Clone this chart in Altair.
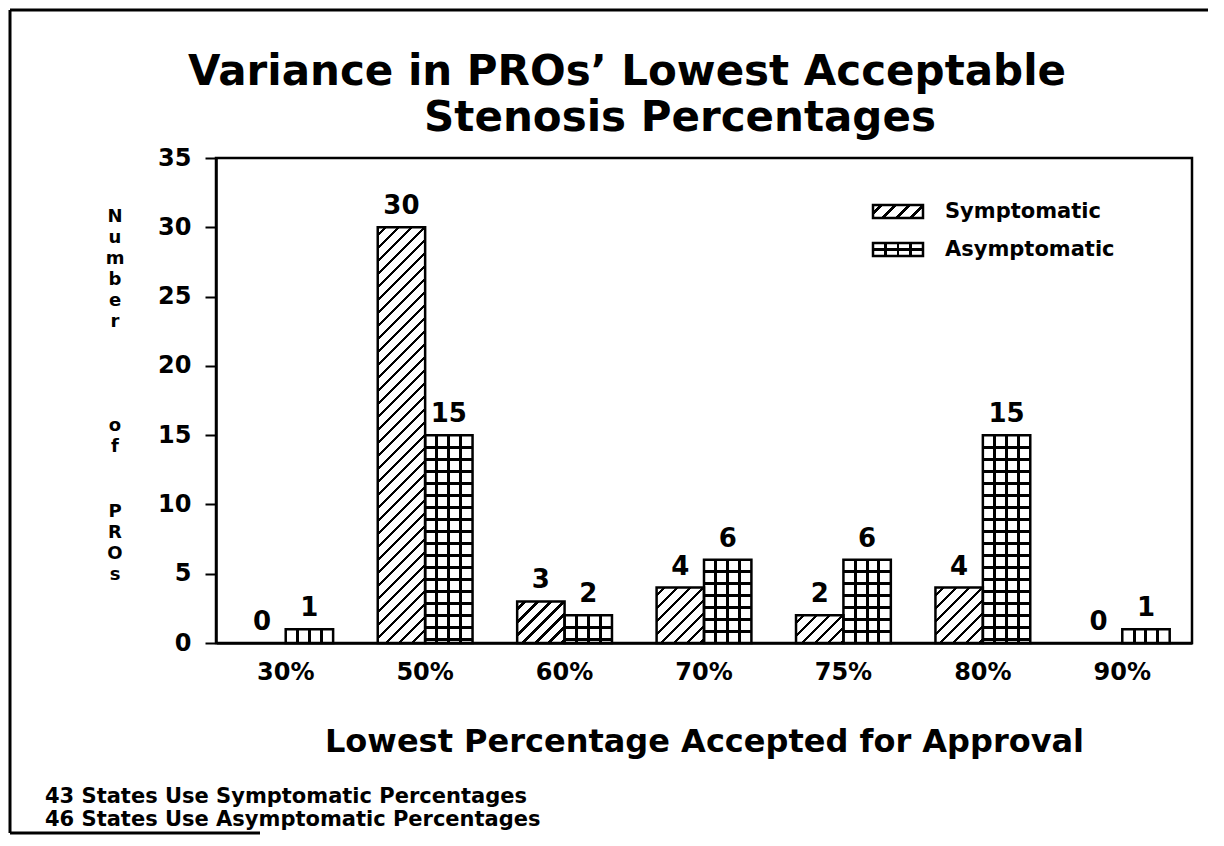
import altair as alt
import pandas as pd

# ---------------- data ----------------
categories = ["30%", "50%", "60%", "70%", "75%", "80%", "90%"]
symptomatic = [0, 30, 3, 4, 2, 4, 0]
asymptomatic = [1, 15, 2, 6, 6, 15, 1]
series_names = ["Symptomatic", "Asymptomatic"]
y_ticks = [0, 5, 10, 15, 20, 25, 30, 35]
title_lines = ["Variance in PROs\u2019 Lowest Acceptable", "Stenosis Percentages"]
x_title = "Lowest Percentage Accepted for Approval"
y_title_words = [["N", "u", "m", "b", "e", "r"], ["o", "f"], ["P", "R", "O", "s"]]
footnotes = ["43 States Use Symptomatic Percentages",
             "46 States Use Asymptomatic Percentages"]

# ---------------- layout constants ----------------
W, H = 976, 485
YMAX = 35
PAD_IN = 0.32
STEP = W / len(categories)
BAR_W = STEP * (1 - PAD_IN) / 2
FONT = "DejaVu Sans"
BLACK = "#000000"
WHITE = "#ffffff"
CLEAR = "rgba(255,255,255,0)"

rows = []
for c, s, a in zip(categories, symptomatic, asymptomatic):
    rows.append({"category": c, "series": series_names[0], "value": s})
    rows.append({"category": c, "series": series_names[1], "value": a})
df = pd.DataFrame(rows)


# ---------------- hatch helpers (SVG linear gradients) ----------------
def band_stops(bands, on, off):
    stops = [{"offset": 0, "color": off}]
    for t0, t1 in bands:
        t0 = max(0.0, min(1.0, t0))
        t1 = max(0.0, min(1.0, t1))
        stops += [{"offset": t0, "color": off}, {"offset": t0, "color": on},
                  {"offset": t1, "color": on}, {"offset": t1, "color": off}]
    stops.append({"offset": 1, "color": off})
    return stops


def diag_fill(w, h, period=13.0, thick=3.6):
    L = w + h
    bands = []
    c = period * 0.6
    while c < L:
        bands.append(((c - thick / 2) / L, (c + thick / 2) / L))
        c += period
    d = w * w + h * h
    return {"gradient": "linear", "x1": 0, "y1": 0,
            "x2": w * L / d, "y2": h * L / d,
            "stops": band_stops(bands, BLACK, WHITE)}


def hline_fill(h, period=12.0, thick=3.0):
    bands = []
    y = period
    while y < h - 2:
        bands.append(((y - thick / 2) / h, (y + thick / 2) / h))
        y += period
    return {"gradient": "linear", "x1": 0, "y1": 0, "x2": 0, "y2": 1,
            "stops": band_stops(bands, BLACK, WHITE)}


def vline_fill(w, n=4, thick=3.0):
    bands = []
    for k in range(1, n):
        x = k * w / n
        bands.append(((x - thick / 2) / w, (x + thick / 2) / w))
    return {"gradient": "linear", "x1": 0, "y1": 0, "x2": 1, "y2": 0,
            "stops": band_stops(bands, BLACK, CLEAR)}


# ---------------- encodings ----------------
x_enc = alt.X(
    "category:N",
    scale=alt.Scale(domain=categories, paddingInner=PAD_IN, paddingOuter=PAD_IN / 2),
    axis=alt.Axis(
        title=x_title, labelAngle=0, ticks=False, tickSize=0,
        labelFont=FONT, labelFontWeight="bold", labelFontSize=24,
        labelColor=BLACK, labelPadding=17,
        domainColor=BLACK, domainWidth=2.5,
        titleFont=FONT, titleFontWeight="bold", titleFontSize=32,
        titleColor=BLACK, titleBaseline="alphabetic", titleY=108,
    ),
)
xo_enc = alt.XOffset("series:N", scale=alt.Scale(domain=series_names))
y_enc = alt.Y(
    "value:Q",
    scale=alt.Scale(domain=[0, YMAX], nice=False),
    axis=alt.Axis(
        values=y_ticks, grid=False, title=None,
        labelFont=FONT, labelFontWeight="bold", labelFontSize=24,
        labelColor=BLACK, labelPadding=14,
        tickColor=BLACK, tickWidth=2, tickSize=11,
        domainColor=BLACK, domainWidth=2.5,
    ),
)

base = alt.Chart(df).encode(x=x_enc, xOffset=xo_enc, y=y_enc)

layers = []
px_per_unit = H / YMAX
for c, s, a in zip(categories, symptomatic, asymptomatic):
    if s > 0:
        layers.append(
            base.transform_filter((alt.datum.category == c) & (alt.datum.series == series_names[0]))
            .mark_bar(fill=diag_fill(BAR_W, s * px_per_unit), strokeWidth=0)
        )
    if a > 0:
        layers.append(
            base.transform_filter((alt.datum.category == c) & (alt.datum.series == series_names[1]))
            .mark_bar(fill=hline_fill(a * px_per_unit), strokeWidth=0)
        )

# vertical grid lines for all asymptomatic bars (same width -> one gradient)
layers.append(
    base.transform_filter((alt.datum.series == series_names[1]) & (alt.datum.value > 0))
    .mark_bar(fill=vline_fill(BAR_W), strokeWidth=0)
)
# outlines
layers.append(
    base.transform_filter(alt.datum.value > 0)
    .mark_bar(filled=False, stroke=BLACK, strokeWidth=2.5)
)
# value labels
layers.append(
    base.mark_text(baseline="bottom", dy=-8, font=FONT, fontWeight="bold",
                   fontSize=26, color=BLACK).encode(text="value:Q")
)

one = pd.DataFrame({"k": [0]})

# ---------------- title (two centred lines) ----------------
title_marks = []
for txt, (cx, by) in zip(title_lines, [(411, -73), (464, -27)]):
    title_marks.append(
        alt.Chart(one).mark_text(align="center", baseline="alphabetic", font=FONT,
                                 fontWeight="bold", fontSize=42, color=BLACK)
        .encode(x=alt.value(cx), y=alt.value(by), text=alt.value(txt))
    )

# ---------------- stacked y-axis title ----------------
ytitle = []
for letters, by in zip(y_title_words, [64, 273, 359]):
    ytitle.append(
        alt.Chart(one).mark_text(align="center", baseline="alphabetic", font=FONT,
                                 fontWeight="bold", fontSize=18, lineHeight=21, color=BLACK)
        .encode(x=alt.value(-101), y=alt.value(by), text=alt.value(letters))
    )

# ---------------- legend (manual, pattern swatches) ----------------
LX0, LX1 = 657, 707
rows_y = [(47, 60), (85, 98)]
SW_W, SW_H = LX1 - LX0, 13
leg = []
leg.append(alt.Chart(one).mark_rect(fill=diag_fill(SW_W, SW_H, period=14, thick=3.2), strokeWidth=0)
           .encode(x=alt.value(LX0), x2=alt.value(LX1), y=alt.value(rows_y[0][0]), y2=alt.value(rows_y[0][1])))
leg.append(alt.Chart(one).mark_rect(fill=hline_fill(SW_H, period=6.5, thick=2.5), strokeWidth=0)
           .encode(x=alt.value(LX0), x2=alt.value(LX1), y=alt.value(rows_y[1][0]), y2=alt.value(rows_y[1][1])))
leg.append(alt.Chart(one).mark_rect(fill=vline_fill(SW_W, thick=2.5), strokeWidth=0)
           .encode(x=alt.value(LX0), x2=alt.value(LX1), y=alt.value(rows_y[1][0]), y2=alt.value(rows_y[1][1])))
for (y0, y1), name in zip(rows_y, series_names):
    leg.append(alt.Chart(one).mark_rect(filled=False, stroke=BLACK, strokeWidth=2.5)
               .encode(x=alt.value(LX0), x2=alt.value(LX1), y=alt.value(y0), y2=alt.value(y1)))
    leg.append(alt.Chart(one).mark_text(align="left", baseline="middle", font=FONT,
                                        fontWeight="bold", fontSize=21, color=BLACK)
               .encode(x=alt.value(729), y=alt.value((y0 + y1) / 2), text=alt.value(name)))

# ---------------- footnotes ----------------
notes = []
for i, txt in enumerate(footnotes):
    notes.append(alt.Chart(one).mark_text(align="left", baseline="middle", font=FONT,
                                          fontWeight="bold", fontSize=21, color=BLACK)
                 .encode(x=alt.value(-171), y=alt.value(639 + 23 * i), text=alt.value(txt)))

# ---------------- outer page frame ----------------
frame = [
    alt.Chart(one).mark_rule(color=BLACK, strokeWidth=3)
    .encode(x=alt.value(-206), x2=alt.value(1010), y=alt.value(-148)),
    alt.Chart(one).mark_rule(color=BLACK, strokeWidth=3)
    .encode(x=alt.value(-206), y=alt.value(-148), y2=alt.value(675)),
    alt.Chart(one).mark_rule(color=BLACK, strokeWidth=3)
    .encode(x=alt.value(-206), x2=alt.value(44), y=alt.value(675)),
]

chart = alt.layer(*layers, *title_marks, *ytitle, *leg, *notes, *frame).properties(
    width=W, height=H,
    background="white",
    autosize=alt.AutoSizeParams(type="none"),
    padding={"left": 208, "top": 150, "right": 16, "bottom": 192},
).configure_view(stroke=BLACK, strokeWidth=2.5)

chart.save("out.html", embed_options={"renderer": "svg", "actions": False})
